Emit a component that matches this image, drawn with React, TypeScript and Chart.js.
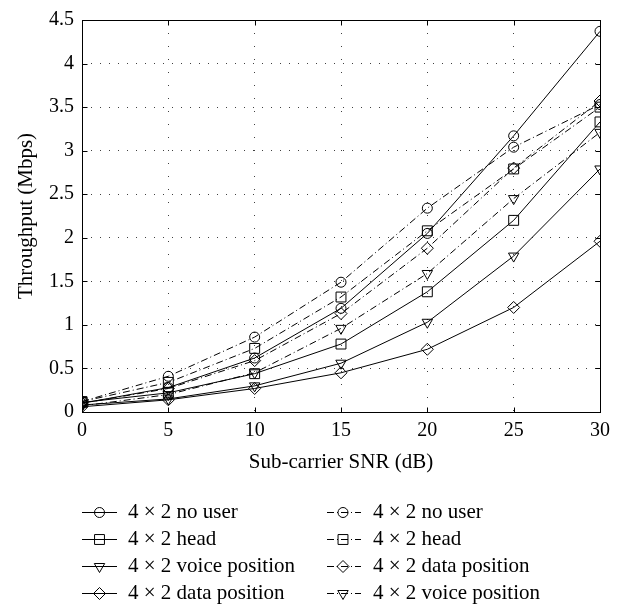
import React, { useEffect, useRef } from 'react';
import { Chart, registerables } from 'chart.js';
import { drawPoint } from 'chart.js/helpers';

Chart.register(...registerables);

// ---- data ----
const snr = [0, 5, 10, 15, 20, 25, 30];
const xTicks = [0, 5, 10, 15, 20, 25, 30];
const yTicks = [0, 0.5, 1, 1.5, 2, 2.5, 3, 3.5, 4, 4.5];

const solidNoUser = [0.10, 0.28, 0.62, 1.19, 2.05, 3.17, 4.37];
const solidHead = [0.11, 0.22, 0.44, 0.78, 1.38, 2.20, 3.33];
const solidVoice = [0.08, 0.15, 0.30, 0.56, 1.03, 1.79, 2.79];
const solidData = [0.06, 0.14, 0.27, 0.45, 0.72, 1.20, 1.96];

const dashNoUser = [0.12, 0.41, 0.86, 1.49, 2.34, 3.04, 3.53];
const dashHead = [0.12, 0.34, 0.73, 1.32, 2.08, 2.79, 3.50];
const dashData = [0.10, 0.27, 0.59, 1.13, 1.88, 2.80, 3.57];
const dashVoice = [0.07, 0.20, 0.45, 0.96, 1.59, 2.45, 3.21];

const labels = [
  '4 \u00d7 2 no user',
  '4 \u00d7 2 head',
  '4 \u00d7 2 voice position',
  '4 \u00d7 2 data position',
  '4 \u00d7 2 no user',
  '4 \u00d7 2 head',
  '4 \u00d7 2 data position',
  '4 \u00d7 2 voice position',
];
const seriesValues = [solidNoUser, solidHead, solidVoice, solidData, dashNoUser, dashHead, dashData, dashVoice];

const FONT = "'Liberation Serif', 'Times New Roman', serif";
const DASHDOT = [7, 3, 1, 3];

const markerFor = (i: number) => {
  const kinds = ['circle', 'rect', 'tri', 'diamond', 'circle', 'rect', 'diamond', 'tri'];
  const k = kinds[i];
  if (k === 'circle') return { pointStyle: 'circle', radius: 5, rotation: 0 };
  if (k === 'rect') return { pointStyle: 'rect', radius: 7, rotation: 0 };
  if (k === 'tri') return { pointStyle: 'triangle', radius: 6, rotation: 180 };
  return { pointStyle: 'rectRot', radius: 6, rotation: 0 };
};

const framePlugin = {
  id: 'frameAndLegend',
  afterDraw(chart: any) {
    const { ctx, chartArea } = chart;
    const { left, right, top, bottom } = chartArea;
    const xs = chart.scales.x;
    const ys = chart.scales.y;
    ctx.save();
    ctx.strokeStyle = '#000';
    ctx.lineWidth = 1;
    ctx.setLineDash([]);
    const L = Math.round(left) + 0.5, R = Math.round(right) + 0.5;
    const T = Math.round(top) + 0.5, B = Math.round(bottom) + 0.5;
    ctx.strokeRect(L, T, R - L, B - T);
    const tl = 5;
    ctx.beginPath();
    xTicks.forEach((v) => {
      const px = Math.round(xs.getPixelForValue(v)) + 0.5;
      ctx.moveTo(px, B); ctx.lineTo(px, B - tl);
      ctx.moveTo(px, T); ctx.lineTo(px, T + tl);
    });
    yTicks.forEach((v) => {
      const py = Math.round(ys.getPixelForValue(v)) + 0.5;
      ctx.moveTo(L, py); ctx.lineTo(L + tl, py);
      ctx.moveTo(R, py); ctx.lineTo(R - tl, py);
    });
    ctx.stroke();

    // legend
    ctx.font = `21px ${FONT}`;
    ctx.textBaseline = 'middle';
    ctx.textAlign = 'left';
    ctx.fillStyle = '#000';
    chart.data.datasets.forEach((ds: any, i: number) => {
      const col = Math.floor(i / 4);
      const row = i % 4;
      const yy = 512 + row * 27;
      const x0 = col === 0 ? 82 : 327;
      const x1 = col === 0 ? 117 : 361;
      const mx = col === 0 ? 99.5 : 343;
      const tx = col === 0 ? 128 : 373;
      ctx.save();
      ctx.strokeStyle = '#000';
      ctx.lineWidth = 1;
      ctx.setLineDash(ds.borderDash || []);
      ctx.beginPath();
      ctx.moveTo(x0, yy + 0.5);
      ctx.lineTo(x1, yy + 0.5);
      ctx.stroke();
      ctx.setLineDash([]);
      ctx.strokeStyle = '#000';
      ctx.fillStyle = 'rgba(0,0,0,0)';
      drawPoint(ctx, { pointStyle: ds.pointStyle, radius: ds.pointRadius, rotation: ds.pointRotation, borderWidth: 1 }, mx, yy + 0.5);
      ctx.restore();
      ctx.fillStyle = '#000';
      ctx.fillText(ds.label, tx, yy);
    });
    ctx.restore();
  },
};

export default function App() {
  const ref = useRef<HTMLCanvasElement | null>(null);
  useEffect(() => {
    if (!ref.current) return;
    const datasets = seriesValues.map((vals, i) => {
      const m = markerFor(i);
      return {
        label: labels[i],
        data: snr.map((x, j) => ({ x, y: vals[j] })),
        borderColor: '#000',
        backgroundColor: 'rgba(0,0,0,0)',
        borderWidth: 1,
        borderDash: i < 4 ? [] : DASHDOT,
        pointStyle: m.pointStyle,
        pointRadius: m.radius,
        pointRotation: m.rotation,
        pointBorderColor: '#000',
        pointBackgroundColor: 'rgba(0,0,0,0)',
        pointBorderWidth: 1,
        tension: 0,
        fill: false,
      };
    });
    const chart = new Chart(ref.current, {
      type: 'line',
      data: { datasets },
      options: {
        animation: false,
        responsive: true,
        maintainAspectRatio: false,
        layout: { padding: { left: 0, right: 21, top: 13, bottom: 120 } },
        plugins: { legend: { display: false }, tooltip: { enabled: false } },
        scales: {
          x: {
            type: 'linear',
            min: 0,
            max: 30,
            afterFit: (s: any) => { s.height = 72; },
            afterBuildTicks: (s: any) => { s.ticks = xTicks.map((v) => ({ value: v })); },
            ticks: {
              color: '#000',
              font: { family: FONT, size: 20 },
              padding: 7,
              callback: (v: any) => String(v),
              maxRotation: 0,
            },
            grid: { color: 'rgba(0,0,0,0.75)', drawTicks: false, lineWidth: 1 },
            border: { display: false, dash: [1, 12] },
            title: {
              display: true,
              text: 'Sub-carrier SNR (dB)',
              color: '#000',
              font: { family: FONT, size: 21 },
              padding: { top: 0, bottom: 9 },
            },
          },
          y: {
            type: 'linear',
            min: 0,
            max: 4.5,
            afterFit: (s: any) => { s.width = 82; },
            afterBuildTicks: (s: any) => { s.ticks = yTicks.map((v) => ({ value: v })); },
            ticks: {
              color: '#000',
              font: { family: FONT, size: 20 },
              padding: 8,
              callback: (v: any) => String(+v),
            },
            grid: { color: 'rgba(0,0,0,0.75)', drawTicks: false, lineWidth: 1 },
            border: { display: false, dash: [1, 8] },
            title: {
              display: true,
              text: 'Throughput (Mbps)',
              color: '#000',
              font: { family: FONT, size: 21 },
              padding: { top: 14, bottom: 0 },
            },
          },
        },
      },
      plugins: [framePlugin],
    });
    return () => chart.destroy();
  }, []);
  return (
    <div style={{ position: 'absolute', left: 0, top: 0, width: 621, height: 604 }}>
      <canvas ref={ref} />
    </div>
  );
}
